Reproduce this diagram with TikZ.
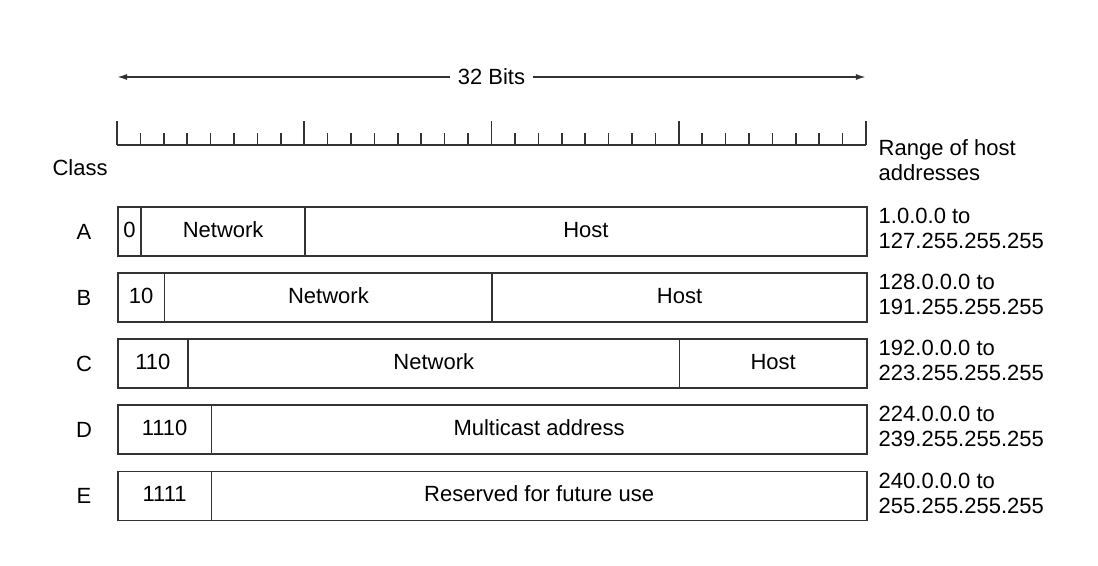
\documentclass[tikz,border=0pt]{standalone}
\usepackage{fontspec}
\setmainfont{Liberation Sans}
\usepackage{tikz}
\usetikzlibrary{arrows.meta}

\begin{document}
\begin{tikzpicture}[x=11.703pt, y=-0.5pt, line width=0.8pt, draw=black!80,
  every node/.style={font=\fontsize{11}{12.5}\selectfont},
  field/.style={draw=black!80, minimum width=#1*11.703pt, minimum height=24.5pt, inner sep=0pt,
    text height=8pt, text depth=2.3pt, anchor=west},
  hostrange/.style={align=left, anchor=west, inner sep=0pt}]
\useasboundingbox (-4.999, 0) rectangle (41.913, 566);
 % 32 bit arrow
 \node (bits) at (16, 77) {32 Bits};
 \coordinate (left) at (0, 77);
 \coordinate (right) at (32, 77);
 \draw [-{Latex[length=5pt, width=3pt]}] (bits.west) -- (left);
 \draw [-{Latex[length=5pt, width=3pt]}] (bits.east) -- (right);
 % ruler
 \draw (0, 145) -- (32, 145);
 \foreach \i in {0,...,32} {
  \pgfmathsetmacro\tick{mod(\i,8)==0 ? 121 : 133}
  \draw (\i, 145) -- (\i, \tick);
 }
 \node (class) at (-1.58, 168) {Class};
 \node[hostrange] (hdr) at (32.51, 160.5) {Range of host\\addresses};
 % class A
 \node (A) at (-1.41, 231.5) {A};
 \node[field=1] (aPre) at (0, 231.5) {0};
 \node[field=7] (aNet) at (1, 231.5) {Network};
 \node[field=24] (aHost) at (8, 231.5) {Host};
 \node[hostrange] (aRange) at (32.51, 228.5) {1.0.0.0 to\\127.255.255.255};
 % class B
 \node (B) at (-1.41, 297.5) {B};
 \node[field=2] (bPre) at (0, 297.5) {10};
 \node[field=14] (bNet) at (2, 297.5) {Network};
 \node[field=16] (bHost) at (16, 297.5) {Host};
 \node[hostrange] (bRange) at (32.51, 294.5) {128.0.0.0 to\\191.255.255.255};
 % class C
 \node (C) at (-1.41, 363.5) {C};
 \node[field=3] (cPre) at (0, 363.5) {110};
 \node[field=21] (cNet) at (3, 363.5) {Network};
 \node[field=8] (cHost) at (24, 363.5) {Host};
 \node[hostrange] (cRange) at (32.51, 360.5) {192.0.0.0 to\\223.255.255.255};
 % class D
 \node (D) at (-1.41, 429.5) {D};
 \node[field=4] (dPre) at (0, 429.5) {1110};
 \node[field=28] (dMulti) at (4, 429.5) {Multicast address};
 \node[hostrange] (dRange) at (32.51, 426.5) {224.0.0.0 to\\239.255.255.255};
 % class E
 \node (E) at (-1.41, 496) {E};
 \node[field=4] (ePre) at (0, 496) {1111};
 \node[field=28] (eRes) at (4, 496) {Reserved for future use};
 \node[hostrange] (eRange) at (32.51, 493) {240.0.0.0 to\\255.255.255.255};
\end{tikzpicture}
\end{document}
